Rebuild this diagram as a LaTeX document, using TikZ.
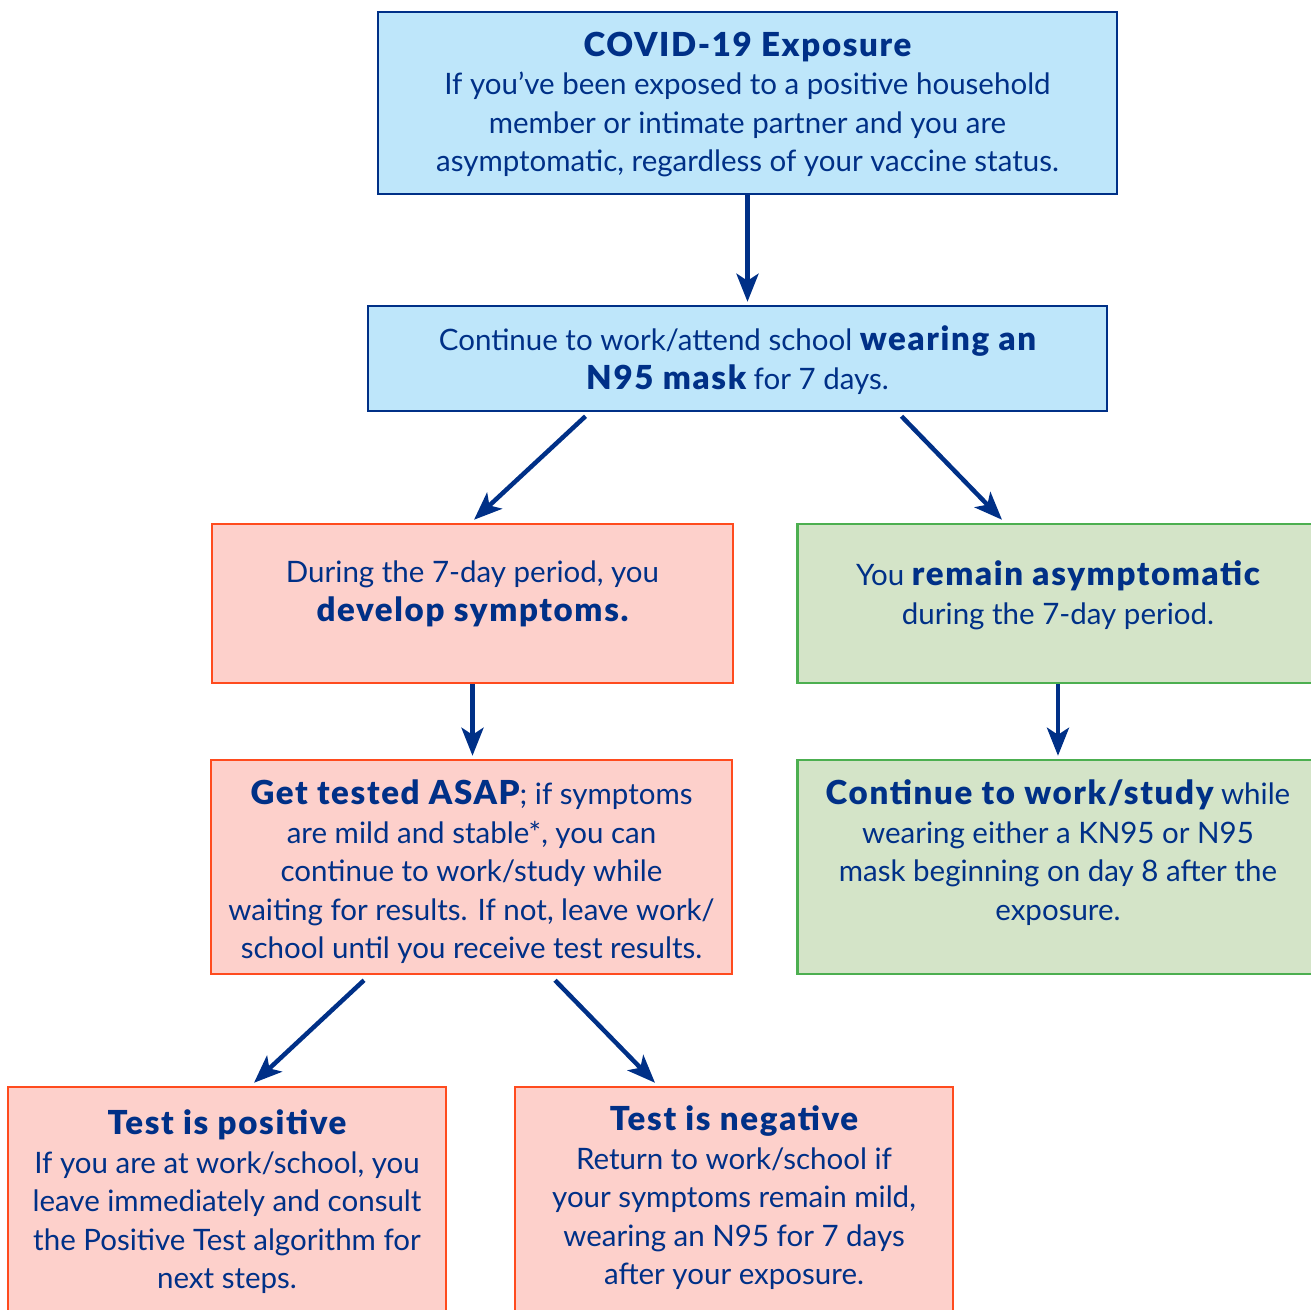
\documentclass[tikz,border=0pt]{standalone}
\usepackage{fontspec}
\setmainfont{Lato}
\newfontfamily\heavyfont[Scale=1.12,LetterSpace=5]{Lato Black}
\usetikzlibrary{arrows.meta}

\definecolor{navy}{RGB}{0,48,135}
\definecolor{skyfill}{RGB}{190,230,250}
\definecolor{pinkfill}{RGB}{253,208,203}
\definecolor{redline}{RGB}{255,75,30}
\definecolor{greenfill}{RGB}{212,228,200}
\definecolor{greenline}{RGB}{76,175,80}

% heavy words
\newcommand{\hv}[1]{{\heavyfont #1}}
% text block, top aligned: height, width, text
\newcommand{\boxtext}[3]{\parbox[c][#1pt][t]{#2pt}{\lineskiplimit=-20pt\centering #3}}

\begin{document}
\begin{tikzpicture}[
  x=1pt, y=-1pt,
  font=\fontsize{29.5}{38.5}\selectfont, text=navy,
  bluebox/.style={draw=navy, fill=skyfill, line width=2.5pt,
                  inner sep=0pt, minimum width=739pt},
  redbox/.style={draw=redline, fill=pinkfill, line width=2.5pt,
                 inner sep=0pt, minimum width=521pt},
  greenbox/.style={draw=greenline, fill=greenfill, line width=2.5pt,
                   inner sep=0pt, minimum width=521pt},
  arr/.style={navy, line width=4.5pt,
              -{Stealth[length=28pt,width=22pt,inset=7pt]}}
]
\useasboundingbox (0,0) rectangle (1311,1309);
\clip (0,0) rectangle (1311,1309);

\node[bluebox, minimum height=182pt] (expo) at (747.5,103)
  {\boxtext{142}{735}{\hv{COVID-19 Exposure}\\
   If you’ve been exposed to a positive household\\
   member or intimate partner and you are\\
   asymptomatic, regardless of your vaccine status.}};
\node[bluebox, minimum height=105pt] (mask) at (737.5,358.5)
  {\boxtext{65}{735}{Continue to work/attend school \hv{wearing an}\\
   \hv{N95 mask} for 7 days.}};

\node[redbox, minimum height=159pt] (sympt) at (472.5,603.5)
  {\boxtext{85}{518}{During the 7-day period, you\\
   \hv{develop symptoms.}}};
\node[greenbox, minimum height=159pt] (asym) at (1058,603.5)
  {\boxtext{85}{518}{You \hv{remain asymptomatic}\\
   during the 7-day period.}};

\node[redbox, minimum height=214pt] (tested) at (471.5,867)
  {\boxtext{174}{518}{\hv{Get tested ASAP}; if symptoms\\
   are mild and stable*, you can\\
   continue to work/study while\\
   waiting for results. If not, leave work/\\
   school until you receive test results.}};
\node[greenbox, minimum height=214pt] (cont) at (1058,867)
  {\boxtext{174}{518}{\hv{Continue to work/study} while\\
   wearing either a KN95 or N95\\
   mask beginning on day 8 after the\\
   exposure.}};

\node[redbox, minimum width=438pt, minimum height=242pt] (pos) at (227,1208)
  {\boxtext{196}{435}{\hv{Test is positive}\\
   If you are at work/school, you\\
   leave immediately and consult\\
   the Positive Test algorithm for\\
   next steps.}};
\node[redbox, minimum width=438pt, minimum height=242pt] (neg) at (734,1208)
  {\boxtext{204}{435}{\hv{Test is negative}\\
   Return to work/school if\\
   your symptoms remain mild,\\
   wearing an N95 for 7 days\\
   after your exposure.}};

\draw[arr, shorten >=3pt] (expo.south) -- (expo.south |- mask.north);
\draw[arr] ([xshift=-152pt,yshift=-4pt]mask.south) -- ([xshift=1.5pt,yshift=3pt]sympt.north);
\draw[arr] ([xshift=164pt,yshift=-4pt]mask.south) -- ([xshift=-56pt,yshift=3pt]asym.north);
\draw[arr, shorten >=3pt] (sympt.south) -- (sympt.south |- tested.north);
\draw[arr, shorten >=3pt] (asym.south) -- (cont.north);
\draw[arr] ([xshift=-107.5pt,yshift=-5pt]tested.south) -- ([xshift=27pt,yshift=3pt]pos.north);
\draw[arr] ([xshift=83.5pt,yshift=-5pt]tested.south) -- ([xshift=-79pt,yshift=3pt]neg.north);
\end{tikzpicture}
\end{document}
